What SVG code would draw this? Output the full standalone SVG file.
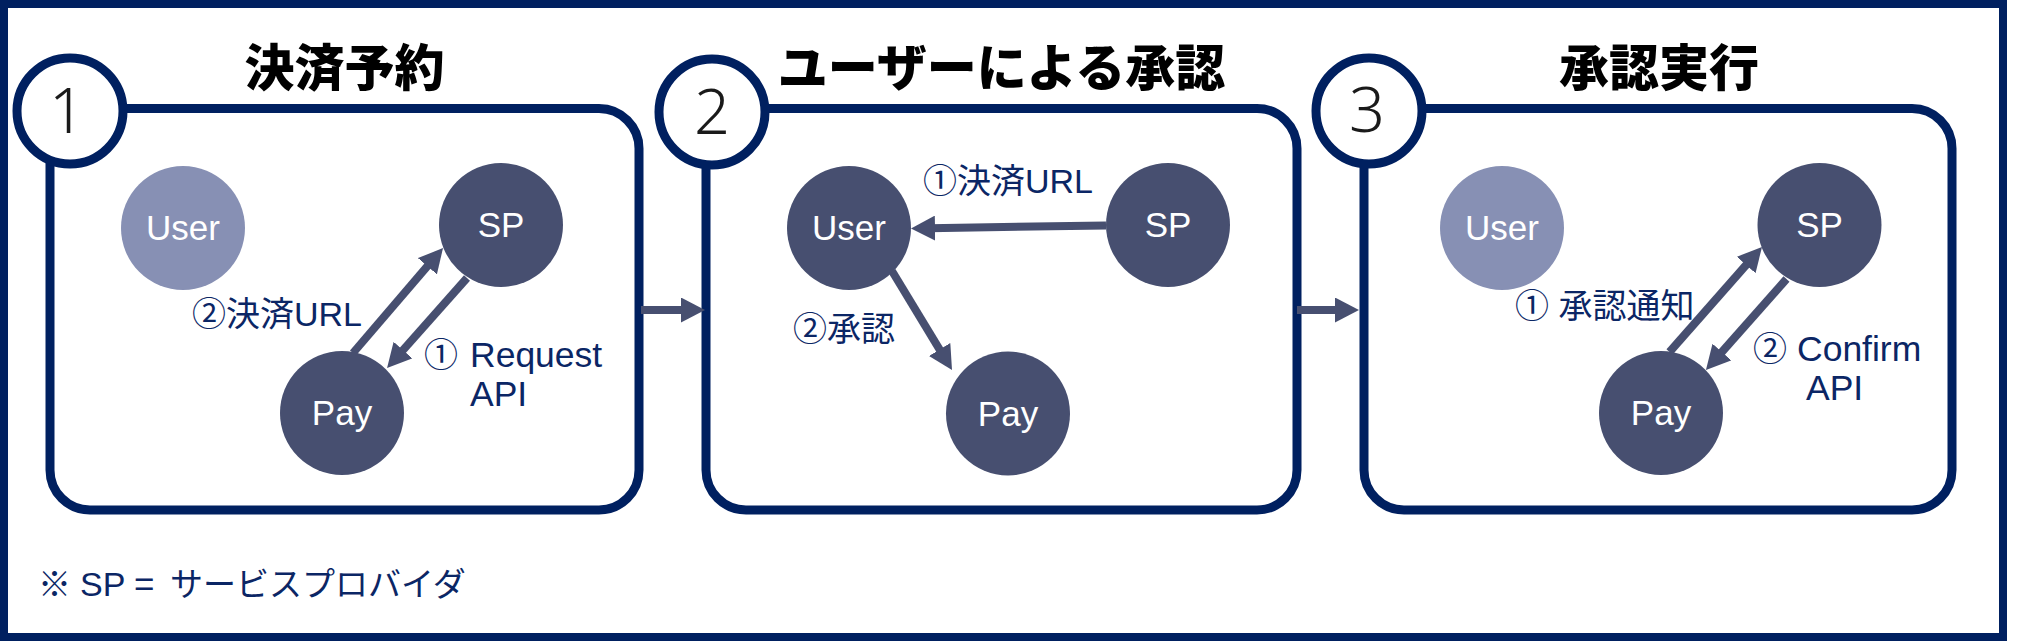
<svg xmlns="http://www.w3.org/2000/svg" width="2020" height="641" viewBox="0 0 2020 641">
<defs>
<style>
.frame{fill:none;stroke:#002060;stroke-width:8}
.box{fill:#fff;stroke:#002060;stroke-width:9}
.badge{fill:#fff;stroke:#002060;stroke-width:9}
.num{font-family:"Noto Sans","Liberation Sans",sans-serif;font-weight:300;font-size:63px;fill:#1a1a1a;text-anchor:middle}
.title{font-family:"Noto Sans CJK JP",sans-serif;font-weight:900;font-size:50px;fill:#000;text-anchor:middle}
.node{fill:#474f70}
.node-l{fill:#8790b4}
.nt{font-family:"Liberation Sans","Noto Sans CJK JP",sans-serif;font-size:35px;fill:#fff;text-anchor:middle}
.lbl{font-family:"Liberation Sans","Noto Sans CJK JP",sans-serif;font-size:34px;fill:#0b2665}
.lat{font-size:35.5px}
.edge{stroke:#474f70;stroke-width:8;fill:none;marker-end:url(#ah)}
</style>
<marker id="ah" markerUnits="userSpaceOnUse" markerWidth="24" markerHeight="25" refX="6" refY="12.5" orient="auto">
<path d="M0,0 L24,12.5 L0,25 z" fill="#474f70"/>
</marker>
</defs>
<rect x="0" y="0" width="2020" height="641" fill="#fff"/>
<rect class="frame" x="4" y="4" width="1999" height="633"/>

<g id="panel1">
<rect class="box" x="50" y="108.5" width="589" height="401.5" rx="40"/>
<circle class="badge" cx="70" cy="111" r="53"/>
<text class="num" x="67" y="133">1</text>
<text class="title" x="344.5" y="86">決済予約</text>
</g>
<g id="panel2">
<rect class="box" x="706" y="108.5" width="591" height="401.5" rx="40"/>
<circle class="badge" cx="712" cy="112" r="53"/>
<text class="num" x="712" y="134">2</text>
<text class="title" x="1001.5" y="86">ユーザーによる承認</text>
</g>
<g id="panel3">
<rect class="box" x="1364" y="108.5" width="588" height="401.5" rx="40"/>
<circle class="badge" cx="1369" cy="111" r="53"/>
<text class="num" x="1367" y="132">3</text>
<text class="title" x="1659" y="86">承認実行</text>
</g>

<g id="p1-user"><circle class="node-l" cx="183" cy="228" r="62"/><text class="nt" x="183" y="240">User</text></g>
<g id="p1-sp"><circle class="node" cx="501" cy="225" r="62"/><text class="nt" x="501" y="237">SP</text></g>
<g id="p1-pay"><circle class="node" cx="342" cy="413" r="62"/><text class="nt" x="342" y="425">Pay</text></g>

<g id="p2-user"><circle class="node" cx="849" cy="228" r="62"/><text class="nt" x="849" y="240">User</text></g>
<g id="p2-sp"><circle class="node" cx="1168" cy="225" r="62"/><text class="nt" x="1168" y="237">SP</text></g>
<g id="p2-pay"><circle class="node" cx="1008" cy="413.5" r="62"/><text class="nt" x="1008" y="425.5">Pay</text></g>

<g id="p3-user"><circle class="node-l" cx="1502" cy="228" r="62"/><text class="nt" x="1502" y="240">User</text></g>
<g id="p3-sp"><circle class="node" cx="1819.5" cy="225" r="62"/><text class="nt" x="1819.5" y="237">SP</text></g>
<g id="p3-pay"><circle class="node" cx="1661" cy="413" r="62"/><text class="nt" x="1661" y="425">Pay</text></g>

<g id="connectors">
<line class="edge" x1="353" y1="353" x2="431.3" y2="261.7"/>
<line class="edge" x1="467" y1="278" x2="399" y2="354.6"/>
<line class="edge" x1="1106" y1="225.5" x2="929" y2="228.2"/>
<line class="edge" x1="892" y1="271" x2="942.7" y2="354.6"/>
<line class="edge" x1="1669.5" y1="352" x2="1750.1" y2="260.5"/>
<line class="edge" x1="1786.5" y1="279" x2="1717.9" y2="356.5"/>
<line class="edge" x1="641" y1="310" x2="687" y2="310"/>
<line class="edge" x1="1297" y1="310" x2="1341" y2="310"/>
</g>

<g id="labels">
<text class="lbl" x="362" y="326" text-anchor="end">②決済URL</text>
<text class="lbl" y="367"><tspan x="424">①</tspan><tspan class="lat" x="470">Request</tspan></text>
<text class="lbl lat" x="470" y="406">API</text>
<text class="lbl" x="923" y="193">①決済URL</text>
<text class="lbl" x="793" y="341">②承認</text>
<text class="lbl" x="1515" y="318">① 承認通知</text>
<text class="lbl" y="361"><tspan x="1753">②</tspan><tspan class="lat" x="1797">Confirm</tspan></text>
<text class="lbl lat" x="1806" y="400">API</text>
<text class="lbl" y="596" style="font-size:33px"><tspan x="38">※</tspan><tspan x="80" style="font-size:34px">SP</tspan><tspan x="134" style="font-size:35px">=</tspan><tspan x="170">サービスプロバイダ</tspan></text>
</g>
</svg>
